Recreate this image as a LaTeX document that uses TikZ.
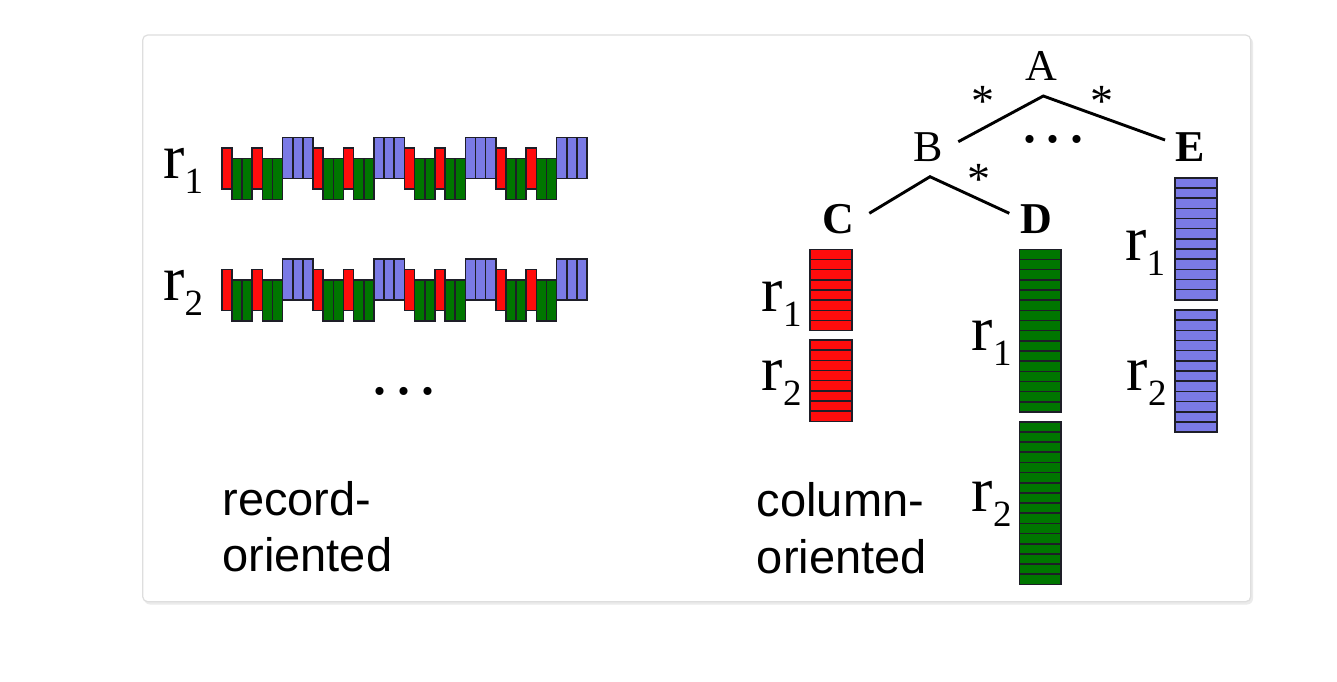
\documentclass[tikz,border=0pt]{standalone}
\usepackage{fontspec}
\setmainfont{Liberation Serif}
\newfontfamily\sansf{Liberation Sans}
\definecolor{cred}{RGB}{255,12,12}
\definecolor{cgreen}{RGB}{0,118,0}
\definecolor{cblue}{RGB}{122,122,230}
\definecolor{cedge}{RGB}{30,30,40}
\newcommand\rlab[1]{r\raisebox{-7.5pt}{\fontsize{18.5pt}{18.5pt}\selectfont #1}}
\tikzset{
  cellbox/.style={draw=cedge, line width=0.8pt},
  rlabel/.style={anchor=base west, inner sep=0pt, font=\fontsize{32pt}{32pt}\selectfont},
  treelabel/.style={anchor=base, inner sep=0pt, font=\fontsize{22pt}{22pt}\selectfont},
  treelabelb/.style={anchor=base, inner sep=0pt, font=\fontsize{22pt}{22pt}\selectfont\bfseries},
  startxt/.style={anchor=base, inner sep=0pt, font=\fontsize{23pt}{23pt}\selectfont},
  dotstxt/.style={anchor=base, inner sep=0pt, font=\fontsize{34pt}{34pt}\selectfont},
  captxt/.style={anchor=base west, inner sep=0pt, font=\fontsize{23.5pt}{23.5pt}\sansf},
  treeline/.style={line width=1.45pt, black},
  boxframe/.style={draw=black!13, fill=white, rounded corners=2.5pt, line width=0.6pt}
}
\begin{document}
\begin{tikzpicture}[x=0.5pt,y=-0.5pt]
\useasboundingbox (0,0) rectangle (1337,681);
\fill[white] (0,0) rectangle (1337,681);
% frame with faint shadow
\fill[black!8, rounded corners=3pt] (144,37) rectangle (1253,604.5);
\draw[boxframe] (142.7,35) rectangle (1250.7,601.7);

% ---------- record-oriented rows ----------
\def\w{10.15}
\foreach \dy in {0,121.7}{
  \foreach \g in {0,1,2,3}{
    \pgfmathsetmacro{\xg}{221.7+\g*9*\w}
    \foreach \c in {0,3}{
      \draw[cellbox, fill=cred] ({\xg+\c*\w},{147.7+\dy}) rectangle ({\xg+(\c+1)*\w},{188.7+\dy});
    }
    \foreach \c in {1,2,4,5}{
      \draw[cellbox, fill=cgreen] ({\xg+\c*\w},{158.3+\dy}) rectangle ({\xg+(\c+1)*\w},{199.3+\dy});
    }
    \foreach \c in {6,7,8}{
      \draw[cellbox, fill=cblue] ({\xg+\c*\w},{137.3+\dy}) rectangle ({\xg+(\c+1)*\w},{178.3+\dy});
    }
  }
}
\node[rlabel] (lr1) at (163,178) {\rlab{1}};
\node[rlabel] (lr2) at (163,300) {\rlab{2}};
\node[dotstxt] (ldots) at (404,394.5) {.\kern3.5pt.\kern3.5pt.};
\node[captxt] (rec1) at (222,515) {record-};
\node[captxt] (rec2) at (222,571.7) {oriented};

% ---------- column-oriented ----------
\def\h{10.17}
\def\bw{41.7}
\foreach \yy/\n in {249.3/8,340/8}{
  \foreach \i in {1,...,\n}{
    \draw[cellbox, fill=cred] (810,{\yy+(\i-1)*\h}) rectangle ({810+\bw},{\yy+\i*\h});
  }
}
\foreach \yy/\n in {249.3/16,421.7/16}{
  \foreach \i in {1,...,\n}{
    \draw[cellbox, fill=cgreen] (1019.3,{\yy+(\i-1)*\h}) rectangle ({1019.3+\bw},{\yy+\i*\h});
  }
}
\foreach \yy/\n in {177.8/12,310/12}{
  \foreach \i in {1,...,\n}{
    \draw[cellbox, fill=cblue] (1175,{\yy+(\i-1)*\h}) rectangle ({1175+\bw},{\yy+\i*\h});
  }
}
\node[rlabel] (cr1) at (761.5,311.7) {\rlab{1}};
\node[rlabel] (cr2) at (761.5,390) {\rlab{2}};
\node[rlabel] (dr1) at (971.5,350) {\rlab{1}};
\node[rlabel] (dr2) at (971.5,511.7) {\rlab{2}};
\node[rlabel] (er1) at (1125,260) {\rlab{1}};
\node[rlabel] (er2) at (1126.5,390) {\rlab{2}};
\node[captxt] (col1) at (756.5,516.7) {column-};
\node[captxt] (col2) at (756.5,573.3) {oriented};

% ---------- tree ----------
\node[treelabel] (A) at (1041.7,80) {A};
\node[treelabel] (B) at (928.3,161.7) {B};
\node[treelabelb] (E) at (1190,161.7) {E};
\node[treelabelb] (C) at (838.3,233) {C};
\node[treelabelb] (D) at (1036.7,233) {D};
\coordinate (Aap) at (1043.3,96);
\coordinate (Bend) at (958.3,141.7);
\coordinate (Eend) at (1165,140);
\coordinate (Bap) at (930,176.7);
\coordinate (Cend) at (869.3,213.3);
\coordinate (Dend) at (1009.3,213.3);
\draw[treeline] (Bend) -- (Aap) -- (Eend);
\draw[treeline] (Cend) -- (Bap) -- (Dend);
\node[startxt] (s1) at (983.3,116.5) {*};
\node[startxt] (s2) at (1101.7,116.5) {*};
\node[startxt] (s3) at (979.3,194.8) {*};
\node[dotstxt] (tdots) at (1053.5,142) {.\kern3.5pt.\kern3.5pt.};
\end{tikzpicture}
\end{document}
